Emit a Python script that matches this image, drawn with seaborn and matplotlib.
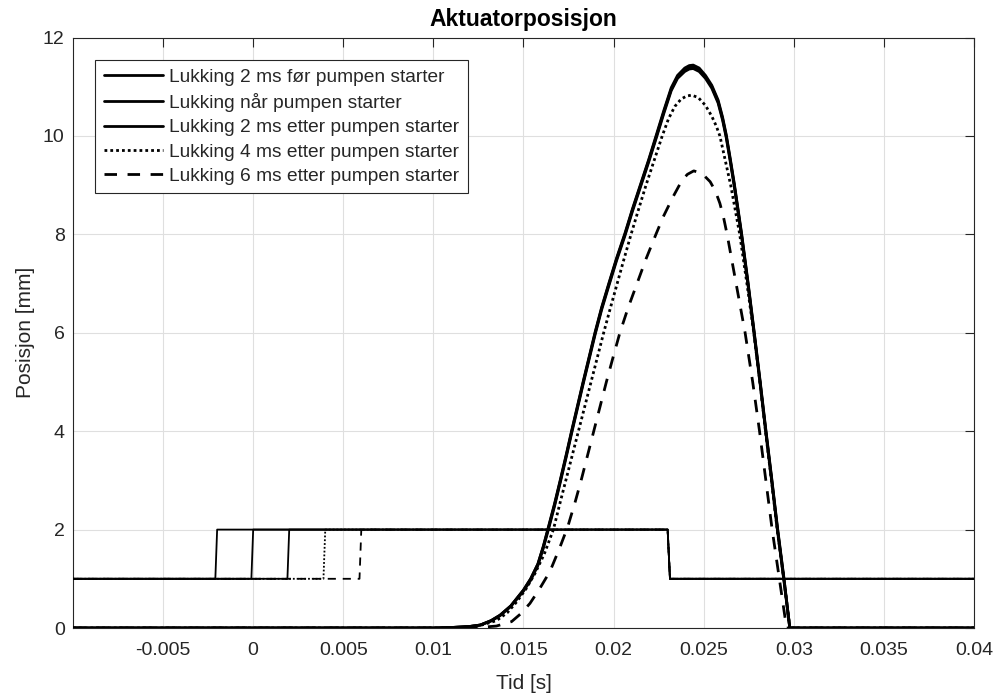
import matplotlib
matplotlib.use("Agg")
import matplotlib.pyplot as plt
import seaborn as sns
import pandas as pd

# ---------------- data ----------------
labels = [
    "Lukking 2 ms før pumpen starter",
    "Lukking når pumpen starter",
    "Lukking 2 ms etter pumpen starter",
    "Lukking 4 ms etter pumpen starter",
    "Lukking 6 ms etter pumpen starter",
]
# step (closing command) times
step_on = [-0.002, 0.0, 0.002, 0.004, 0.006]
step_off = 0.023
step_low = 1.0
step_high = 2.0

# actuator position curves
t_solid = [-0.01, 0.0100, 0.0110, 0.0120, 0.0126, 0.0132, 0.0137, 0.0143, 0.0150, 0.0154,
           0.0158, 0.0161, 0.01636, 0.01672, 0.01705, 0.01737, 0.01768, 0.018, 0.01832,
           0.01865, 0.01898, 0.01934, 0.01975, 0.02017, 0.02063, 0.02105, 0.0215, 0.02195,
           0.02238, 0.0228, 0.0232, 0.02355, 0.02395, 0.0242, 0.02442, 0.02475, 0.0251,
           0.02545, 0.0258, 0.02605, 0.02625, 0.02648, 0.0267, 0.0269, 0.0271, 0.02746,
           0.0278, 0.02813, 0.02845, 0.02878, 0.0291, 0.02945, 0.02978, 0.04]
y_solid_a = [0, 0, 0.01, 0.03, 0.06, 0.15, 0.26, 0.45, 0.77, 1.0,
             1.3, 1.66, 2.02, 2.52, 3.02, 3.52, 4.02, 4.52, 5.02,
             5.52, 6.02, 6.52, 7.02, 7.52, 8.02, 8.52, 9.02, 9.52,
             10.03, 10.53, 10.98, 11.23, 11.38, 11.43, 11.44, 11.38, 11.23,
             11.03, 10.73, 10.38, 10.03, 9.53, 9.03, 8.53, 8.03, 7.03,
             6.03, 5.03, 4.03, 3.03, 2.03, 1.03, 0, 0]
y_solid_b = [0, 0, 0.01, 0.03, 0.06, 0.15, 0.26, 0.45, 0.77, 1.0,
             1.3, 1.65, 2.0, 2.5, 3.0, 3.5, 4.0, 4.5, 5.0,
             5.5, 6.0, 6.5, 7.0, 7.5, 8.0, 8.5, 9.0, 9.5,
             10.0, 10.5, 10.95, 11.2, 11.35, 11.4, 11.41, 11.35, 11.2,
             11.0, 10.7, 10.35, 10.0, 9.5, 9.0, 8.5, 8.0, 7.0,
             6.0, 5.0, 4.0, 3.0, 2.0, 1.0, 0, 0]
y_solid_c = [0, 0, 0.01, 0.03, 0.06, 0.14, 0.25, 0.44, 0.75, 0.97,
             1.27, 1.62, 1.97, 2.47, 2.97, 3.47, 3.97, 4.47, 4.97,
             5.47, 5.97, 6.47, 6.97, 7.47, 7.97, 8.47, 8.97, 9.47,
             9.97, 10.47, 10.92, 11.17, 11.31, 11.36, 11.37, 11.31, 11.17,
             10.97, 10.67, 10.32, 9.97, 9.47, 8.97, 8.47, 7.97, 6.97,
             5.97, 4.97, 3.97, 2.97, 1.97, 0.97, 0, 0]

t_dot = [-0.01, 0.0105, 0.0115, 0.0125, 0.0135, 0.0141, 0.01462, 0.01515, 0.01564, 0.01615,
         0.01666, 0.0170, 0.01735, 0.0177, 0.01805, 0.0184, 0.01875, 0.0191, 0.01945,
         0.01982, 0.0202, 0.02058, 0.02097, 0.02138, 0.0218, 0.02225, 0.0227, 0.02305,
         0.0234, 0.02375, 0.02405, 0.02433, 0.0247, 0.0251, 0.02545, 0.0257, 0.0259,
         0.0262, 0.0265, 0.02675, 0.0270, 0.0274, 0.02778, 0.02812, 0.02843, 0.02876,
         0.02908, 0.02945, 0.02978, 0.04]
y_dot = [0, 0, 0.01, 0.04, 0.15, 0.31, 0.53, 0.8, 1.11, 1.5,
         2.0, 2.5, 3.0, 3.5, 4.0, 4.5, 5.0, 5.5, 6.0,
         6.5, 7.0, 7.5, 8.0, 8.5, 9.0, 9.5, 10.0, 10.35,
         10.6, 10.75, 10.81, 10.83, 10.78, 10.62, 10.4, 10.2, 10.0,
         9.5, 9.0, 8.5, 8.0, 7.0, 6.0, 5.0, 4.0, 3.0,
         2.0, 1.0, 0, 0]

t_dash = [-0.01, 0.0115, 0.0125, 0.0135, 0.01434, 0.01485, 0.01536, 0.0159, 0.01647, 0.0170,
          0.01745, 0.01786, 0.0182, 0.01855, 0.0189, 0.01925, 0.0196, 0.01997, 0.02035,
          0.0208, 0.0213, 0.0218, 0.02235, 0.02276, 0.02331, 0.0238, 0.0241, 0.02445,
          0.0249, 0.02536, 0.02565, 0.0259, 0.0261, 0.0263, 0.02655, 0.0268, 0.02705,
          0.0273, 0.02772, 0.0281, 0.02845, 0.0288, 0.0292, 0.0296, 0.04]
y_dash = [0, 0, 0.01, 0.04, 0.13, 0.29, 0.5, 0.8, 1.15, 1.62,
          2.05, 2.55, 3.0, 3.5, 4.0, 4.5, 5.0, 5.5, 6.0,
          6.5, 7.0, 7.5, 8.0, 8.36, 8.77, 9.1, 9.22, 9.29,
          9.24, 9.07, 8.88, 8.63, 8.35, 8.0, 7.5, 7.0, 6.5,
          6.0, 5.0, 4.0, 3.0, 2.0, 1.0, 0, 0]

x_ticks = [-0.005, 0, 0.005, 0.01, 0.015, 0.02, 0.025, 0.03, 0.035, 0.04]
x_tick_labels = ["-0.005", "0", "0.005", "0.01", "0.015", "0.02", "0.025", "0.03", "0.035", "0.04"]
y_ticks = [0, 2, 4, 6, 8, 10, 12]

# ---------------- style ----------------
sns.set_style("white")
plt.rcParams["font.family"] = ["Liberation Sans", "DejaVu Sans"]
axcol = "#262626"

fig = plt.figure(figsize=(9.97, 6.95), dpi=100)
ax = fig.add_axes([0.0732, 0.0964, 0.9037, 0.8496])

styles = ["-", "-", "-", (0, (1, 1.1)), (0, (4.5, 3.8))]
curves = [(t_solid, y_solid_a), (t_solid, y_solid_b), (t_solid, y_solid_c),
          (t_dot, y_dot), (t_dash, y_dash)]

handles = []
for i, (lab, ls, (tc, yc)) in enumerate(zip(labels, styles, curves)):
    on = step_on[i]
    ts = [-0.01, on - 0.0001, on, step_off, step_off + 0.00013, 0.04]
    ys = [step_low, step_low, step_high, step_high, step_low, step_low]
    dstep = pd.DataFrame({"t": ts, "y": ys})
    sns.lineplot(data=dstep, x="t", y="y", ax=ax, color="black", lw=1.3,
                 linestyle=ls, sort=False, estimator=None, zorder=3)
    dcurve = pd.DataFrame({"t": tc, "y": yc})
    sns.lineplot(data=dcurve, x="t", y="y", ax=ax, color="black", lw=2.0,
                 linestyle=ls, sort=False, estimator=None, zorder=4)
    handles.append(ax.lines[-1])

ax.set_xlim(-0.01, 0.04)
ax.set_ylim(0, 12)
ax.set_xticks(x_ticks)
ax.set_xticklabels(x_tick_labels)
ax.set_yticks(y_ticks)

ax.grid(True, color="#dfdfdf", lw=0.8, zorder=0)
ax.set_axisbelow(True)
for sp in ax.spines.values():
    sp.set_color(axcol)
    sp.set_linewidth(0.8)
    sp.set_visible(True)
ax.tick_params(direction="in", length=6.5, width=0.8, color=axcol, labelcolor=axcol,
               labelsize=14, top=True, right=True)
ax.tick_params(axis="x", pad=10)
ax.tick_params(axis="y", pad=6)

ax.set_xlabel("Tid [s]", fontsize=15, color=axcol, labelpad=11)
ax.set_ylabel("Posisjon [mm]", fontsize=15, color=axcol, labelpad=6)
ax.set_title("Aktuatorposisjon", fontsize=16.5, fontweight="bold", color="black", pad=8)

leg = ax.legend(handles, labels, loc="upper left", bbox_to_anchor=(0.0244, 0.962),
                fontsize=13.8, frameon=True, fancybox=False, edgecolor=axcol,
                framealpha=1, handlelength=3.1, handletextpad=0.3, labelspacing=0.36,
                borderpad=0.45, borderaxespad=0)
leg.get_frame().set_linewidth(0.8)

fig.savefig("out.png", dpi=100)
